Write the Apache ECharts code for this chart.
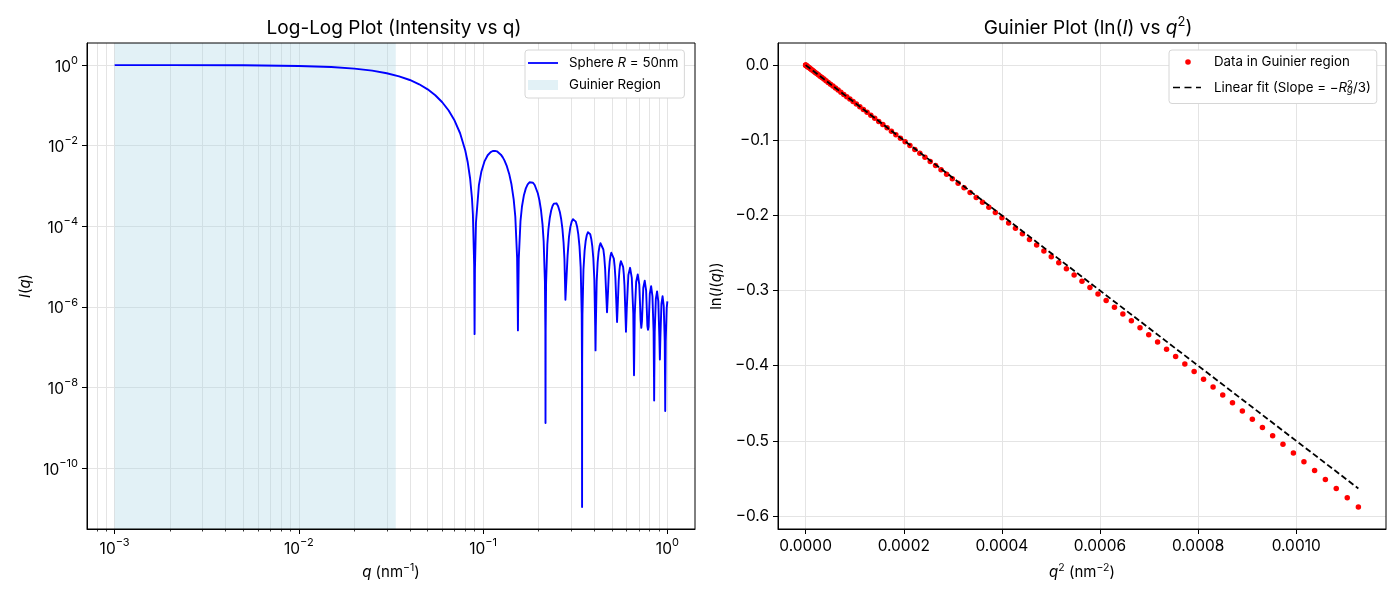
<!DOCTYPE html>
<html>
<head>
<meta charset="utf-8">
<script src="https://cdn.jsdelivr.net/npm/echarts@6.0.0/dist/echarts.min.js"></script>
<style>
html,body{margin:0;padding:0;background:#fff;}
#chart{width:1400px;height:600px;}
</style>
</head>
<body>
<div id="chart"></div>
<script>
// ---- left panel: sphere form factor ----
var qValues = [
    0.001, 0.002, 0.005, 0.01, 0.015, 0.02, 0.025, 0.03, 0.035, 0.04, 0.045, 0.05, 0.055, 0.06, 0.065, 0.07, 0.075, 0.08, 0.0825, 0.085, 0.087, 0.088, 0.0894, 0.08987,
    0.090268, 0.091468, 0.094868, 0.097868, 0.101868, 0.105868, 0.109868, 0.112868, 0.115868, 0.118868, 0.121868, 0.124868, 0.127868, 0.130506, 0.134506, 0.138506, 0.142506, 0.146506, 0.149506, 0.152906, 0.154106, 0.15451,
    0.154906, 0.156106, 0.159506, 0.162506, 0.166506, 0.170506, 0.174506, 0.178506, 0.182506, 0.186506, 0.190506, 0.192082, 0.198082, 0.202082, 0.206082, 0.210082, 0.213082, 0.216482, 0.217682, 0.21808,
    0.218482, 0.219682, 0.223082, 0.226082, 0.230082, 0.234082, 0.238082, 0.242082, 0.246082, 0.250082, 0.254082, 0.255324, 0.261324, 0.265324, 0.269324, 0.273324, 0.276324, 0.279724, 0.28132,
    0.282924, 0.287324, 0.292324, 0.297324, 0.302324, 0.307324, 0.31287, 0.318416, 0.323416, 0.328416, 0.333416, 0.338416, 0.342816, 0.344016, 0.34442,
    0.344816, 0.346016, 0.350416, 0.355416, 0.360416, 0.365416, 0.370416, 0.375922, 0.381426, 0.386426, 0.391426, 0.396426, 0.401426, 0.405826, 0.40743,
    0.409026, 0.413426, 0.418426, 0.423426, 0.428426, 0.433426, 0.438908, 0.44439, 0.44939, 0.45439, 0.45939, 0.46439, 0.47039,
    0.47639, 0.48139, 0.48639, 0.49139, 0.49639, 0.501856, 0.507322, 0.512322, 0.517322, 0.522322, 0.527322, 0.53332,
    0.539322, 0.544322, 0.549322, 0.554322, 0.559322, 0.564778, 0.570232, 0.575232, 0.580232, 0.585232, 0.590232, 0.59623,
    0.602232, 0.614232, 0.62768, 0.641128, 0.653128, 0.657528, 0.65913,
    0.660728, 0.665128, 0.677128, 0.69057, 0.704012, 0.716012, 0.72201,
    0.728012, 0.740012, 0.75345, 0.766888, 0.778888, 0.78489,
    0.790888, 0.802888, 0.816324, 0.829758, 0.841758, 0.846158, 0.84776,
    0.849358, 0.853758, 0.865758, 0.87919, 0.892622, 0.904622, 0.91062,
    0.916622, 0.928622, 0.942052, 0.955482, 0.967482, 0.971882, 0.97348,
    0.975082, 0.979482, 0.991482, 1.0
];
var intensityValues = [
    0.9995, 0.998, 0.9876, 0.9511, 0.8928, 0.8163, 0.7263, 0.6278, 0.5262, 0.4265, 0.3331, 0.2495, 0.1779, 0.1195, 0.07448, 0.04194, 0.02032, 0.007584, 0.00386, 0.00153, 4.895e-4, 1.991e-4, 1.129e-5, 2.1e-7,
    8.27e-6, 1.254e-4, 1.044e-3, 2.294e-3, 4.143e-3, 5.783e-3, 6.928e-3, 7.375e-3, 7.44e-3, 7.226e-3, 6.704e-3, 5.977e-3, 5.125e-3, 4.315e-3, 3.094e-3, 1.989e-3, 1.097e-3, 4.662e-4, 1.735e-4, 1.654e-5, 1.004e-6, 2.6e-7,
    9.835e-7, 1.522e-5, 1.341e-4, 3.089e-4, 5.907e-4, 8.701e-4, 1.095e-3, 1.232e-3, 1.268e-3, 1.204e-3, 1.057e-3, 9.852e-4, 6.6e-4, 4.419e-4, 2.527e-4, 1.112e-4, 4.239e-5, 4.158e-6, 2.543e-7, 1.3e-9,
    2.506e-7, 3.921e-6, 3.531e-5, 8.303e-5, 1.629e-4, 2.458e-4, 3.166e-4, 3.643e-4, 3.826e-4, 3.704e-4, 3.313e-4, 3.15e-4, 2.183e-4, 1.491e-4, 8.689e-5, 3.896e-5, 1.504e-5, 1.497e-6, 1.35e-6,
    1.429e-6, 1.836e-5, 5.366e-5, 9.454e-5, 1.295e-4, 1.5e-4, 1.509e-4, 1.302e-4, 9.882e-5, 6.345e-5, 3.168e-5, 9.53e-6, 6.616e-7, 4.093e-8, 1.08e-11,
    4.055e-8, 6.374e-7, 8.288e-6, 2.453e-5, 4.372e-5, 6.059e-5, 7.098e-5, 7.23e-5, 6.31e-5, 4.843e-5, 3.142e-5, 1.584e-5, 4.808e-6, 3.366e-7, 8.3e-8,
    3.262e-7, 4.272e-6, 1.276e-5, 2.293e-5, 3.203e-5, 3.783e-5, 3.888e-5, 3.423e-5, 2.646e-5, 1.728e-5, 8.777e-6, 2.684e-6, 7.3e-7,
    2.423e-6, 7.277e-6, 1.316e-5, 1.85e-5, 2.198e-5, 2.274e-5, 2.014e-5, 1.566e-5, 1.028e-5, 5.251e-6, 1.613e-6, 4.2e-7,
    1.474e-6, 4.449e-6, 8.089e-6, 1.142e-5, 1.363e-5, 1.417e-5, 1.262e-5, 9.848e-6, 6.497e-6, 3.33e-6, 1.027e-6, 2.4e-7,
    9.479e-7, 6.178e-6, 9.287e-6, 5.205e-6, 6.852e-7, 4.88e-8, 2.0e-8,
    4.78e-8, 6.371e-7, 4.182e-6, 6.336e-6, 3.579e-6, 4.743e-7, 3.0e-7,
    4.437e-7, 2.932e-6, 4.471e-6, 2.542e-6, 3.386e-7, 2.7e-7,
    3.185e-7, 2.115e-6, 3.244e-6, 1.854e-6, 2.482e-7, 1.78e-8, 4.7e-9,
    1.75e-8, 2.346e-7, 1.565e-6, 2.411e-6, 1.385e-6, 1.862e-7, 4.9e-8,
    1.765e-7, 1.182e-6, 1.829e-6, 1.055e-6, 1.422e-7, 1.02e-8, 2.6e-9,
    1.008e-8, 1.353e-7, 9.095e-7, 1.36e-6
];
var guinierBounds = [0.001, 0.033566];
var logTicksX = [0.001, 0.01, 0.1, 1];
var logMinorTicksX = [8e-4, 9e-4,
    2e-3, 3e-3, 4e-3, 5e-3, 6e-3, 7e-3, 8e-3, 9e-3,
    0.02, 0.03, 0.04, 0.05, 0.06, 0.07, 0.08, 0.09,
    0.2, 0.3, 0.4, 0.5, 0.6, 0.7, 0.8, 0.9];
var logTicksY = [1e-10, 1e-8, 1e-6, 1e-4, 1e-2, 1];

// ---- right panel: Guinier region points and the line ----
var q2Values = [
    0, 1.150e-7, 4.598e-7, 1.0346e-6, 1.8393e-6, 2.874e-6, 4.139e-6, 5.633e-6, 7.357e-6, 9.312e-6,
    1.1496e-5, 1.3910e-5, 1.6554e-5, 1.9428e-5, 2.2532e-5, 2.5866e-5, 2.9429e-5, 3.3223e-5, 3.7247e-5, 4.1500e-5,
    4.5983e-5, 5.0696e-5, 5.5640e-5, 6.0813e-5, 6.6215e-5, 7.1849e-5, 7.7712e-5, 8.3804e-5, 9.0127e-5, 9.6679e-5,
    1.03462e-4, 1.10474e-4, 1.17717e-4, 1.25189e-4, 1.32891e-4, 1.40823e-4, 1.48985e-4, 1.57378e-4, 1.66000e-4, 1.74850e-4,
    1.83933e-4, 1.93244e-4, 2.02786e-4, 2.12557e-4, 2.22558e-4, 2.32790e-4, 2.43250e-4, 2.53941e-4, 2.64862e-4, 2.76013e-4,
    2.87394e-4, 2.99005e-4, 3.10845e-4, 3.22916e-4, 3.35217e-4, 3.47747e-4, 3.60507e-4, 3.73498e-4, 3.86717e-4, 4.00168e-4,
    4.13847e-4, 4.27757e-4, 4.41897e-4, 4.56267e-4, 4.70867e-4, 4.85696e-4, 5.00755e-4, 5.16044e-4, 5.31564e-4, 5.47314e-4,
    5.63293e-4, 5.79501e-4, 5.95941e-4, 6.12609e-4, 6.29508e-4, 6.46637e-4, 6.63996e-4, 6.81584e-4, 6.99402e-4, 7.17451e-4,
    7.35729e-4, 7.54237e-4, 7.72975e-4, 7.91943e-4, 8.11142e-4, 8.30570e-4, 8.50227e-4, 8.70114e-4, 8.90232e-4, 9.10580e-4,
    9.31157e-4, 9.51964e-4, 9.73001e-4, 9.94269e-4, 1.015766e-3, 1.037492e-3, 1.059450e-3, 1.081637e-3, 1.104053e-3, 1.126700e-3
];
var lnIValues = [
    0, -0.0000575, -0.00023, -0.000517, -0.00092, -0.001437, -0.002069, -0.002817, -0.00368, -0.004657,
    -0.00575, -0.006959, -0.008282, -0.009721, -0.011275, -0.012945, -0.01473, -0.016632, -0.018648, -0.020781,
    -0.023029, -0.025394, -0.027875, -0.030472, -0.033186, -0.036016, -0.038964, -0.042027, -0.045208, -0.048506,
    -0.051922, -0.055455, -0.059108, -0.062876, -0.066763, -0.070769, -0.074893, -0.079136, -0.083498, -0.087978,
    -0.092578, -0.097298, -0.102138, -0.107098, -0.112178, -0.117379, -0.122702, -0.128144, -0.133708, -0.139395,
    -0.145203, -0.151135, -0.157188, -0.163365, -0.169665, -0.176089, -0.182636, -0.189309, -0.196106, -0.203028,
    -0.210076, -0.21725, -0.22455, -0.231977, -0.239531, -0.247212, -0.255022, -0.262959, -0.271026, -0.279223,
    -0.287548, -0.296005, -0.304593, -0.313311, -0.322161, -0.331144, -0.340258, -0.349507, -0.358889, -0.368405,
    -0.378058, -0.387845, -0.397768, -0.407827, -0.418026, -0.428362, -0.438836, -0.449448, -0.460201, -0.471095,
    -0.482129, -0.493307, -0.504626, -0.516088, -0.527694, -0.539445, -0.551342, -0.563384, -0.575573, -0.587911
];
var fitQ2 = [0, 0.0011267];
var fitLnI = [0, -0.56335];
var guinierTicksX = [0, 0.0002, 0.0004, 0.0006, 0.0008, 0.0010];
var guinierTicksY = [-0.6, -0.5, -0.4, -0.3, -0.2, -0.1, 0];

var FONT = 'Inter, "Noto Sans", sans-serif';
var GRID_COLOR = '#e4e4e4';
var REGION_COLOR = 'rgba(173,216,230,0.35)';

function toMinus(s){
    return String(s).replace('-', '\u2212');
}
function powLabel(val){
    var e = Math.round(Math.log10(val));
    return '{b|10}{s|' + toMinus(e) + '}';
}
function zip(xs, ys){
    var out = [];
    for(var i=0;i<xs.length;i++){
        out.push([xs[i], ys[i]]);
    }
    return out;
}

var labelRich = {
    b: {fontFamily: FONT, fontSize: 15.5, color: '#000', lineHeight: 20, verticalAlign: 'bottom'},
    s: {fontFamily: FONT, fontSize: 11, color: '#000', lineHeight: 11, verticalAlign: 'top'}
};
var nameRich = {
    i: {fontFamily: FONT, fontSize: 15, fontStyle: 'italic', color: '#000', lineHeight: 20},
    s: {fontFamily: FONT, fontSize: 10.5, color: '#000', lineHeight: 10, verticalAlign: 'top'}
};
var legendRich = {
    gap: {width: 6},
    i: {fontFamily: FONT, fontSize: 13.3, fontStyle: 'italic', color: '#000'},
    sup: {fontFamily: FONT, fontSize: 9.5, color: '#000', lineHeight: 9, verticalAlign: 'top'},
    // subscript takes no width so the superscript sits right above it
    sub: {fontFamily: FONT, fontSize: 9.5, fontStyle: 'italic', color: '#000', lineHeight: 9, verticalAlign: 'bottom', width: 0.1}
};
var legendNames = {
    sphere: 'Sphere {i|R} = 50nm',
    region: 'Guinier Region',
    points: 'Data in Guinier region',
    fit: 'Linear fit (Slope = \u2212{i|R}{sub|g}{sup|2}/3)'
};

var lineIcon = 'path://M0,0 M30,10 M0,4.1 L30,4.1 L30,5.9 L0,5.9 Z';
var dashIcon = 'path://M0,0 M30,10 M0,4.2 L7,4.2 L7,5.8 L0,5.8 Z M11.5,4.2 L18.5,4.2 L18.5,5.8 L11.5,5.8 Z M23,4.2 L28,4.2 L28,5.8 L23,5.8 Z';
var dotIcon = 'path://M0,0 M30,10 M12.2,5 A2.8,2.8 0 1 0 17.8,5 A2.8,2.8 0 1 0 12.2,5 Z';

function axisBase(){
    return {
        axisLine: {show: true, onZero: false, lineStyle: {color: '#000', width: 1}},
        axisTick: {show: true, length: 5, lineStyle: {color: '#000', width: 1}},
        splitLine: {show: true, lineStyle: {color: GRID_COLOR, width: 1}},
        nameTextStyle: {fontFamily: FONT, fontSize: 15, color: '#000', lineHeight: 20, rich: nameRich},
        nameLocation: 'middle'
    };
}

var xLog = axisBase();
xLog.gridIndex = 0; xLog.type = 'log'; xLog.logBase = 10;
xLog.min = 7.0795e-4; xLog.max = 1.4125; xLog.position = 'bottom';
xLog.axisTick.customValues = logTicksX;
xLog.axisLabel = {customValues: logTicksX, formatter: powLabel, margin: 8, rich: labelRich};
xLog.name = '{i|q} (nm{s|\u22121})'; xLog.nameGap = 33;

var xLogMinor = {
    gridIndex: 0, type: 'log', logBase: 10, min: 7.0795e-4, max: 1.4125, position: 'bottom',
    axisLine: {show: false},
    axisTick: {show: true, length: 2.5, customValues: logMinorTicksX, lineStyle: {color: '#000', width: 0.8}},
    axisLabel: {show: false},
    splitLine: {show: true, lineStyle: {color: GRID_COLOR, width: 1}}
};

var yLog = axisBase();
yLog.gridIndex = 0; yLog.type = 'log'; yLog.logBase = 10;
yLog.min = 3.06e-12; yLog.max = 3.53;
yLog.axisTick.customValues = logTicksY;
yLog.axisLabel = {customValues: logTicksY, formatter: powLabel, margin: 9, rich: labelRich};
yLog.name = '{i|I}({i|q})'; yLog.nameGap = 52;

var xLin = axisBase();
xLin.gridIndex = 1; xLin.type = 'value';
xLin.min = -5.6335e-5; xLin.max = 0.00118304;
xLin.axisTick.customValues = guinierTicksX;
xLin.axisLabel = {customValues: guinierTicksX, margin: 9, fontFamily: FONT, fontSize: 15.5, color: '#000',
    formatter: function(v){ return v.toFixed(4); }};
xLin.name = '{i|q}{s|2} (nm{s|\u22122})'; xLin.nameGap = 33;

var yLin = axisBase();
yLin.gridIndex = 1; yLin.type = 'value';
yLin.min = -0.6173; yLin.max = 0.0294;
yLin.axisTick.customValues = guinierTicksY;
yLin.axisLabel = {customValues: guinierTicksY, margin: 9, fontFamily: FONT, fontSize: 15.5, color: '#000',
    formatter: function(v){ return toMinus(v.toFixed(1)); }};
yLin.name = 'ln({i|I}({i|q}))'; yLin.nameGap = 52;

function legendBox(left, top, items, gap, pad){
    return {
        left: left, top: top, orient: 'vertical',
        data: items,
        itemWidth: 30, itemHeight: 10, itemGap: gap,
        padding: pad,
        backgroundColor: '#fff', borderColor: '#d6d6d6', borderWidth: 1, borderRadius: 3,
        selectedMode: false,
        formatter: function(name){ return '{gap|}' + legendNames[name]; },
        textStyle: {fontFamily: FONT, fontSize: 13.3, color: '#000', lineHeight: 16, rich: legendRich}
    };
}

var chart = echarts.init(document.getElementById('chart'));
var option = {
    animation: false,
    backgroundColor: '#fff',
    textStyle: {fontFamily: FONT},
    title: [
        {text: 'Log-Log Plot (Intensity vs q)', left: 394, top: 16, textAlign: 'center', padding: 0,
            textStyle: {fontFamily: FONT, fontSize: 19, fontWeight: 'normal', color: '#000', lineHeight: 24}},
        {text: 'Guinier Plot (ln({i|I}) vs {i|q}{s|2})', left: 1088, top: 16, textAlign: 'center', padding: 0,
            textStyle: {fontFamily: FONT, fontSize: 19, fontWeight: 'normal', color: '#000', lineHeight: 24,
                rich: {
                    i: {fontFamily: FONT, fontSize: 19, fontStyle: 'italic', color: '#000', lineHeight: 24},
                    s: {fontFamily: FONT, fontSize: 13, color: '#000', lineHeight: 13, verticalAlign: 'top'}
                }}}
    ],
    grid: [
        {left: 87, top: 43, width: 608, height: 486, show: true, borderColor: '#000', borderWidth: 1, backgroundColor: 'transparent', z: 5},
        {left: 778, top: 43, width: 608, height: 486, show: true, borderColor: '#000', borderWidth: 1, backgroundColor: 'transparent', z: 5}
    ],
    legend: [
        legendBox(525, 50, [
            {name: 'sphere', icon: lineIcon, itemStyle: {color: '#0000ff'}},
            {name: 'region', icon: 'rect', itemStyle: {color: REGION_COLOR}}
        ], 6, [5, 6, 5, 3]),
        legendBox(1169, 50, [
            {name: 'points', icon: dotIcon, itemStyle: {color: '#ff0000'}},
            {name: 'fit', icon: dashIcon, itemStyle: {color: '#000'}}
        ], 9.5, [4, 6, 8, 4])
    ],
    xAxis: [xLog, xLogMinor, xLin],
    yAxis: [yLog, yLin],
    series: [
        {
            name: 'region', type: 'line', xAxisIndex: 0, yAxisIndex: 0, data: [], z: 1,
            itemStyle: {color: REGION_COLOR}, lineStyle: {color: REGION_COLOR},
            markArea: {
                silent: true,
                itemStyle: {color: REGION_COLOR},
                data: [[{xAxis: guinierBounds[0]}, {xAxis: guinierBounds[1]}]]
            }
        },
        {
            name: 'sphere', type: 'line', xAxisIndex: 0, yAxisIndex: 0,
            data: zip(qValues, intensityValues),
            symbol: 'none', z: 3,
            itemStyle: {color: '#0000ff'},
            lineStyle: {color: '#0000ff', width: 1.9, join: 'round'}
        },
        {
            name: 'points', type: 'scatter', xAxisIndex: 2, yAxisIndex: 1,
            data: zip(q2Values, lnIValues),
            symbolSize: 5.5, z: 3,
            itemStyle: {color: '#ff0000', opacity: 1}
        },
        {
            name: 'fit', type: 'line', xAxisIndex: 2, yAxisIndex: 1,
            data: zip(fitQ2, fitLnI),
            symbol: 'none', z: 4,
            itemStyle: {color: '#000'},
            lineStyle: {color: '#000', width: 1.8, type: [6, 3]}
        }
    ]
};
chart.setOption(option);
</script>
</body>
</html>
